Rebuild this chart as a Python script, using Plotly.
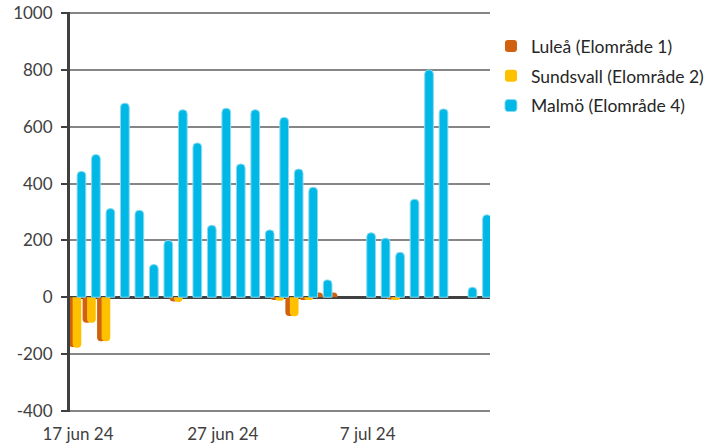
import pandas as pd
import plotly.graph_objects as go

# Daily values, 17 jun – 15 jul 2024 (None = no data that day)
dates = pd.date_range("2024-06-17", "2024-07-15", freq="D")

lulea = [-175, -90, -155, 0, 0, 0, 0, -15, 0, 0, 0, 0, 0, 0,
         -10, -66, -10, 17, 17, None, 0, 0, -8, 0, 0, 0, None, 0, 0]
sundsvall = [-178, -90, -155, 0, 0, 0, 0, -17, 0, 0, 0, 0, 0, 0,
             -12, -67, -10, 0, 0, None, 0, 0, -10, 0, 0, 0, None, 0, 0]
malmo = [443, 502, 312, 683, 306, 115, 200, 660, 543, 253, 665, 469, 660, 237,
         633, 451, 387, 61, None, None, 227, 208, 158, 345, 800, 663, None, 35, 290]

series_names = ["Luleå (Elområde 1)", "Sundsvall (Elområde 2)", "Malmö (Elområde 4)"]

x_tick_dates = ["2024-06-17", "2024-06-27", "2024-07-07"]
x_tick_labels = ["17 jun 24", "27 jun 24", "7 jul 24"]
y_tick_vals = [-400, -200, 0, 200, 400, 600, 800, 1000]
y_tick_labels = ["-400", "-200", "0", "200", "400", "600", "800", "1000"]

DAY_MS = 24 * 3600 * 1000
BAR_W = 0.6  # bar width in days

fig = go.Figure()
styles = [
    (lulea, "#CF6110", -0.38, "#CF6110", 0),
    (sundsvall, "#FFC000", -0.07, "#FFC000", 0),
    (malmo, "#00B8E5", 0.24, "#8ADAF2", 1),
]
for i, (vals, color, shift, lcolor, lw) in enumerate(styles):
    fig.add_trace(go.Bar(
        x=dates, y=vals, name=series_names[i],
        width=BAR_W * DAY_MS,
        offset=(shift - BAR_W / 2) * DAY_MS,
        marker=dict(color=color, line=dict(color=lcolor, width=lw)),
        legendgroup=str(i),
    ))

text_color = "#404040"
fig.update_layout(
    width=710, height=447,
    margin=dict(l=70, r=220, t=12, b=35),
    paper_bgcolor="white", plot_bgcolor="white",
    barmode="overlay",
    barcornerradius=4,
    font=dict(family="Lato", size=17, color=text_color),
    showlegend=True,
    legend=dict(xref="container", yref="container",
                x=0.6915, xanchor="left", y=0.937, yanchor="top",
                font=dict(size=17.5, color="#262626"),
                tracegroupgap=4, bgcolor="rgba(0,0,0,0)"),
    xaxis=dict(
        type="date", automargin=False,
        range=[dates[0] - pd.Timedelta(hours=13.2), dates[0] + pd.Timedelta(hours=28.45 * 24)],
        tickvals=x_tick_dates, ticktext=x_tick_labels,
        showgrid=False, zeroline=False, showline=False,
        ticks="", ticklabelstandoff=10,
        tickfont=dict(size=17, color=text_color),
    ),
    yaxis=dict(
        automargin=False,
        range=[-404, 1004],
        tickvals=y_tick_vals, ticktext=y_tick_labels,
        showgrid=True, gridcolor="#868686", gridwidth=1.5,
        zeroline=True, zerolinecolor="#404040", zerolinewidth=3,
        showline=True, linecolor="#404040", linewidth=3,
        ticks="outside", ticklen=6, tickwidth=2, tickcolor="#404040",
        ticklabelstandoff=5,
        tickfont=dict(size=17, color=text_color),
    ),
)

fig.write_html("out.html")
